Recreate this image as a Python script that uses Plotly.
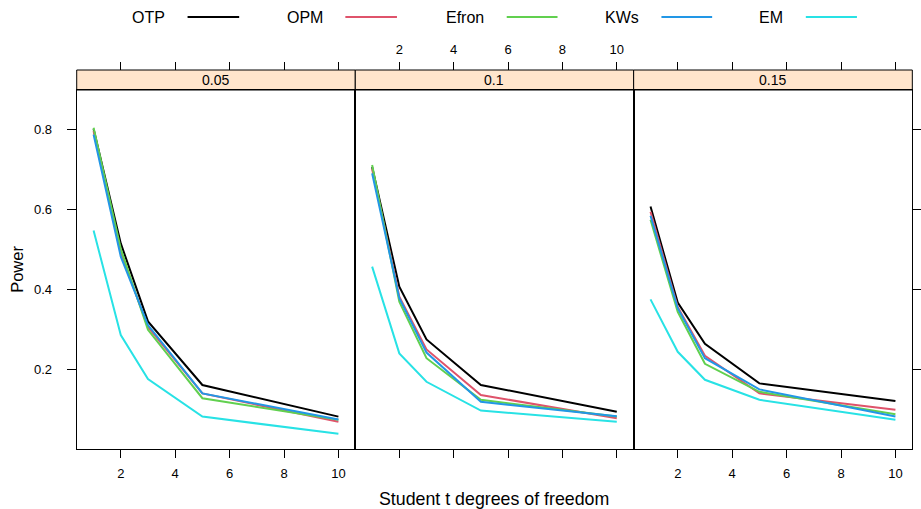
import plotly.graph_objects as go

# ---------------- data ----------------
df_values = [1, 2, 3, 5, 10]
panels = ["0.05", "0.1", "0.15"]
methods = ["OTP", "OPM", "Efron", "KWs", "EM"]
colors = ["#000000", "#DF536B", "#61D04F", "#2297E6", "#28E2E5"]

power_005 = {
    "OTP":   [0.800, 0.514, 0.319, 0.160, 0.081],
    "OPM":   [0.795, 0.490, 0.305, 0.139, 0.068],
    "Efron": [0.803, 0.500, 0.298, 0.127, 0.073],
    "KWs":   [0.786, 0.481, 0.310, 0.139, 0.074],
    "EM":    [0.546, 0.285, 0.175, 0.081, 0.038],
}
power_010 = {
    "OTP":   [0.705, 0.406, 0.274, 0.160, 0.093],
    "OPM":   [0.700, 0.381, 0.249, 0.135, 0.077],
    "Efron": [0.710, 0.368, 0.227, 0.123, 0.081],
    "KWs":   [0.689, 0.377, 0.241, 0.118, 0.082],
    "EM":    [0.456, 0.239, 0.168, 0.096, 0.068],
}
power_015 = {
    "OTP":   [0.606, 0.366, 0.263, 0.164, 0.120],
    "OPM":   [0.593, 0.355, 0.233, 0.139, 0.098],
    "Efron": [0.573, 0.343, 0.213, 0.143, 0.087],
    "KWs":   [0.583, 0.352, 0.227, 0.149, 0.081],
    "EM":    [0.374, 0.243, 0.173, 0.123, 0.073],
}
panel_data = [power_005, power_010, power_015]

x_ticks = [2, 4, 6, 8, 10]
y_ticks = [0.2, 0.4, 0.6, 0.8]

# ---------------- layout geometry ----------------
W, H = 921, 509
FONT = "Liberation Sans, Arial, sans-serif"
panel_px = [(77.3, 358.0), (358.0, 638.5), (638.5, 919.3)]
panel_top, panel_bot = 90.0, 449.0
strip_top = 70.0

def px(x):
    return x / W

def py(y):
    return 1 - y / H

fig = go.Figure()

for i, data in enumerate(panel_data):
    sfx = "" if i == 0 else str(i + 1)
    for m, c in zip(methods, colors):
        fig.add_trace(go.Scatter(
            x=df_values, y=data[m], mode="lines",
            line=dict(color=c, width=2),
            xaxis="x" + sfx, yaxis="y" + sfx,
            showlegend=False, name=m,
        ))

layout = dict(
    width=W, height=H,
    margin=dict(l=0, r=0, t=0, b=0),
    paper_bgcolor="white", plot_bgcolor="white",
    font=dict(family=FONT, size=13, color="black"),
    showlegend=False,
)

xr = [0.38, 10.62]
yr = [0.0, 0.8975]
common_x = dict(range=xr, tickvals=x_ticks, ticks="outside", ticklen=8,
                tickcolor="black", showgrid=False, zeroline=False,
                tickfont=dict(size=13, family=FONT))
common_y = dict(range=yr, tickvals=y_ticks, ticks="outside", ticklen=9,
                tickcolor="black", showgrid=False, zeroline=False,
                showline=True, mirror=True, linecolor="black", linewidth=1,
                tickfont=dict(size=13, family=FONT))

for i, (l, r) in enumerate(panel_px):
    sfx = "" if i == 0 else str(i + 1)
    n = i + 1
    # bottom axis
    layout["xaxis" + sfx] = dict(
        common_x, domain=[px(l), px(r)], anchor="y" + sfx,
        showline=True, mirror=True, linecolor="black", linewidth=1,
        showticklabels=(i != 1), ticklabelstandoff=4,
    )
    # top axis above strip
    layout["xaxis" + str(n + 3)] = dict(
        common_x, domain=[px(l), px(r)], anchor="free",
        position=py(strip_top), side="top", overlaying="x" + sfx,
        showline=False, showticklabels=(i == 1), ticklabelstandoff=3,
    )
    ya = dict(common_y, domain=[py(panel_bot), py(panel_top)], anchor="x" + sfx)
    if i == 0:
        ya.update(side="left", showticklabels=True, ticklabelstandoff=12)
    elif i == 1:
        ya.update(ticks="", showticklabels=False)
    else:
        ya.update(side="right", showticklabels=False)
    layout["yaxis" + sfx] = ya

fig.update_layout(**layout)

# empty traces so the top axes render
for i in range(3):
    fig.add_trace(go.Scatter(x=[None], y=[None], xaxis="x" + str(i + 4),
                             yaxis="y" + ("" if i == 0 else str(i + 1)),
                             showlegend=False, hoverinfo="skip"))

# strips
for i, (l, r) in enumerate(panel_px):
    fig.add_shape(type="rect", xref="paper", yref="paper",
                  x0=px(l), x1=px(r), y0=py(panel_top), y1=py(strip_top),
                  fillcolor="#FFE5CC", line=dict(color="black", width=1),
                  layer="below")
    fig.add_annotation(text=panels[i], xref="paper", yref="paper",
                       x=px((l + r) / 2), y=py((panel_top + strip_top) / 2),
                       showarrow=False, font=dict(size=14, family=FONT),
                       xanchor="center", yanchor="middle")

# legend (text then line sample)
leg_line = [(189, 241), (348, 400), (510.6, 561.8), (666.5, 717.6), (812, 863.5)]
leg_y = 17
for m, c, (a, b) in zip(methods, colors, leg_line):
    fig.add_annotation(text=m, xref="paper", yref="paper", x=px(a - 21), y=py(leg_y),
                       xanchor="right", yanchor="middle", showarrow=False,
                       font=dict(size=16, family=FONT))
    fig.add_shape(type="line", xref="paper", yref="paper",
                  x0=px(a), x1=px(b), y0=py(leg_y), y1=py(leg_y),
                  line=dict(color=c, width=2))

# axis titles
fig.add_annotation(text="Student t degrees of freedom", xref="paper", yref="paper",
                   x=px(498), y=py(499), xanchor="center", yanchor="middle",
                   showarrow=False, font=dict(size=17.8, family=FONT))
fig.add_annotation(text="Power", xref="paper", yref="paper",
                   x=px(17), y=py(269), xanchor="center", yanchor="middle",
                   textangle=-90, showarrow=False, font=dict(size=16.5, family=FONT))

fig.write_html("out.html")
